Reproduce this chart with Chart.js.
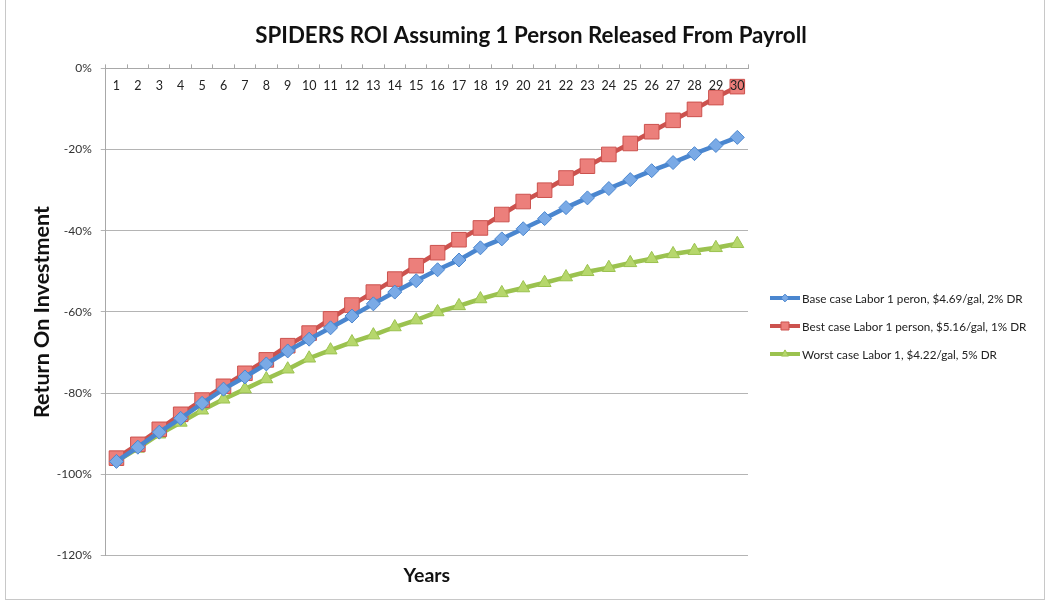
<!DOCTYPE html>
<html>
<head>
<meta charset="utf-8">
<script src="https://cdn.jsdelivr.net/npm/chart.js@4.4.1/dist/chart.umd.min.js"></script>
<style>
  html, body { margin: 0; padding: 0; background: #fff; }
  #wrap { position: relative; width: 1049px; height: 603px; }
  #frame { position: absolute; left: 5px; top: -1px; width: 1040px; height: 601px; border: 1px solid #c8c8c8; box-sizing: border-box; }
  canvas { position: absolute; left: 0; top: 0; }
  #legend { position: absolute; left: 770px; top: 291px; font-family: Lato, sans-serif; font-size: 11.7px; color: #222; }
  #legend .item { height: 28px; display: flex; align-items: flex-start; white-space: nowrap; }
  #legend canvas { position: static; margin-right: 2px; }
</style>
</head>
<body>
<div id="wrap">
  <div id="frame"></div>
  <canvas id="roiChart" width="1049" height="603"></canvas>
  <div id="legend"></div>
</div>
<script>
const years = Array.from({ length: 30 }, (_, i) => String(i + 1));

const baseCase = [-96.8, -93.3, -89.6, -86.2, -82.5, -79.0, -76.0, -72.8, -69.6, -66.7,
                  -63.9, -61.0, -58.0, -55.1, -52.3, -49.6, -47.2, -44.2, -42.0, -39.5,
                  -37.0, -34.3, -31.9, -29.6, -27.4, -25.2, -23.2, -21.0, -19.0, -17.0];
const bestCase = [-96.0, -92.6, -88.9, -85.2, -81.7, -78.3, -75.1, -71.8, -68.3, -65.2,
                  -61.7, -58.3, -55.1, -51.9, -48.6, -45.4, -42.2, -39.3, -36.0, -32.8,
                  -30.0, -27.0, -24.1, -21.2, -18.5, -15.6, -12.8, -10.1, -7.2, -4.5];
const worstCase = [-96.8, -93.6, -90.1, -87.2, -84.2, -81.5, -79.0, -76.5, -74.1, -71.4,
                   -69.4, -67.4, -65.7, -63.7, -62.0, -60.0, -58.5, -56.8, -55.3, -54.1,
                   -52.8, -51.4, -50.1, -49.1, -47.9, -46.9, -45.7, -44.9, -44.2, -43.2];

const seriesNames = [
  'Base case Labor 1 peron, $4.69/gal, 2% DR',
  'Best case Labor 1 person, $5.16/gal, 1% DR',
  'Worst case Labor 1, $4.22/gal, 5% DR'
];

const styles = [
  { line: '#4A86CF', fill: '#7AAAE6', point: 'rectRot', r: 7 },
  { line: '#CC524E', fill: '#EC7F7B', point: 'rect', r: 10.3 },
  { line: '#9BC24F', fill: '#B6D76C', point: 'triangle', r: 7.5 }
];

const allData = [baseCase, bestCase, worstCase];

// html legend: line + marker swatch, then the name
function swatch(s) {
  const c = document.createElement('canvas');
  c.width = 30; c.height = 14;
  const g = c.getContext('2d');
  g.strokeStyle = s.line; g.lineWidth = 4;
  g.beginPath(); g.moveTo(0, 7); g.lineTo(30, 7); g.stroke();
  g.fillStyle = s.fill; g.strokeStyle = s.line; g.lineWidth = 1;
  Chart.helpers.drawPoint(g, { pointStyle: s.point, radius: s.r * 0.55, rotation: 0, borderWidth: 1 }, 15, 7);
  return c;
}
const legendEl = document.getElementById('legend');
seriesNames.forEach((name, i) => {
  const row = document.createElement('div');
  row.className = 'item';
  row.appendChild(swatch(styles[i]));
  const span = document.createElement('span');
  span.textContent = name;
  row.appendChild(span);
  legendEl.appendChild(row);
});

const ctx = document.getElementById('roiChart').getContext('2d');
new Chart(ctx, {
  type: 'line',
  data: {
    labels: years,
    datasets: allData.map((d, i) => ({
      label: seriesNames[i],
      data: d,
      borderColor: styles[i].line,
      backgroundColor: styles[i].fill,
      borderWidth: 4.5,
      pointStyle: styles[i].point,
      pointRadius: styles[i].r,
      pointBackgroundColor: styles[i].fill,
      pointBorderColor: styles[i].line,
      pointBorderWidth: 1,
      tension: 0,
      fill: false
    }))
  },
  options: {
    responsive: false,
    animation: false,
    layout: { padding: { left: 13, right: 0, top: 0, bottom: 16 } },
    plugins: {
      title: {
        display: true,
        text: 'SPIDERS ROI Assuming 1 Person Released From Payroll',
        color: '#111',
        font: { family: 'Lato', size: 22.3, weight: 'bold' },
        padding: { top: 22, bottom: 14.6 }
      },
      legend: { display: false },
      tooltip: { enabled: false }
    },
    scales: {
      x: {
        type: 'category',
        position: 'top',
        offset: true,
        grid: { display: true, drawOnChartArea: false, offset: true, tickLength: 4, color: '#a8a8a8' },
        border: { display: true, color: '#a8a8a8' },
        ticks: { z: 1, mirror: true, padding: 10, color: '#222', font: { family: 'Lato', size: 12.5 }, maxRotation: 0, autoSkip: false },
        afterFit: s => { s.height = 5; }
      },
      x2: {
        type: 'category',
        position: 'bottom',
        labels: years,
        grid: { display: false },
        border: { display: false },
        ticks: { display: false },
        title: {
          display: true,
          text: 'Years',
          color: '#111',
          font: { family: 'Lato', size: 19.5, weight: 'bold' },
          padding: { top: 0, bottom: 0 }
        }
      },
      y: {
        min: -120,
        max: 0,
        ticks: {
          stepSize: 20,
          padding: 9,
          color: '#333',
          font: { family: 'Lato', size: 12 },
          callback: v => v + '%'
        },
        grid: { color: '#b4b4b4', tickLength: 5 },
        border: { color: '#a8a8a8' },
        title: {
          display: true,
          text: 'Return On Investment',
          color: '#111',
          font: { family: 'Lato', size: 21.5, weight: 'bold' },
          padding: { top: 16, bottom: -7 }
        }
      },
      // empty right-hand axis that keeps room for the legend
      yLegend: {
        type: 'linear',
        position: 'right',
        grid: { display: false },
        border: { display: false },
        ticks: { display: false },
        afterFit: s => { s.width = 301; }
      }
    }
  }
});
</script>
</body>
</html>
